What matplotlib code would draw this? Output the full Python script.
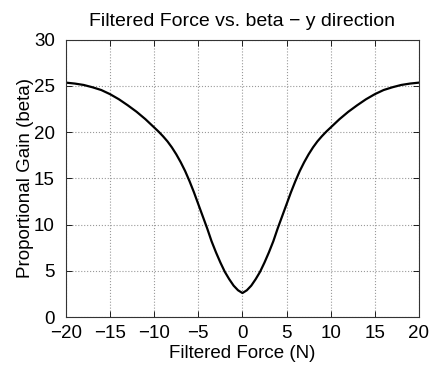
import numpy as np
import matplotlib
matplotlib.use( "Agg" )
import matplotlib.pyplot as plt

# values (right half, x >= 0); curve is symmetric about 0
force_half = [ 0, 0.5, 1, 1.5, 2, 2.5, 3, 3.5, 4, 4.5, 5, 5.5, 6, 6.5, 7, 7.5, 8, 8.5, 9, 9.5, 10,
               11, 12, 13, 14, 15, 16, 17, 18, 19, 20 ]
gain_half = [ 2.6, 2.9, 3.4, 4.1, 4.9, 5.9, 7.0, 8.2, 9.6, 10.9, 12.2, 13.5, 14.7, 15.8, 16.75, 17.6, 18.35, 19.0, 19.55, 20.05, 20.5,
              21.4, 22.2, 22.9, 23.55, 24.1, 24.55, 24.85, 25.1, 25.25, 25.35 ]
force = [ -f for f in force_half[ :0:-1 ] ] + force_half
gain = gain_half[ :0:-1 ] + gain_half
x_ticks = [ -20, -15, -10, -5, 0, 5, 10, 15, 20 ]
y_ticks = [ 0, 5, 10, 15, 20, 25, 30 ]

plt.rcParams[ "font.family" ] = [ "Liberation Sans", "DejaVu Sans" ]
plt.rcParams[ "font.size" ] = 13.5

fig = plt.figure( figsize = ( 4.4, 3.67 ), dpi = 100 )
ax = fig.add_axes( [ 0.15, 0.136, 0.802, 0.756 ] )

ax.plot( force, gain, color = "black", linewidth = 1.6 )
ax.set_xlim( -20, 20 )
ax.set_ylim( 0, 30 )
ax.set_xticks( x_ticks )
ax.set_yticks( y_ticks )
ax.set_xticklabels( [ str( t ).replace( "-", "\u2212" ) for t in x_ticks ] )
ax.grid( True, linestyle = ":", color = "#999999", linewidth = 0.8 )
ax.tick_params( direction = "in", top = True, right = True, length = 4, width = 0.6 )
ax.tick_params( axis = "x", pad = 6 )
ax.tick_params( axis = "y", pad = 8 )
for s in ax.spines.values():
    s.set_linewidth( 0.8 )
    s.set_color( "#333333" )

ax.set_xlabel( "Filtered Force (N)", labelpad = 2 )
ax.set_ylabel( "Proportional Gain (beta)", labelpad = 0 )
ax.set_title( "Filtered Force vs. beta \u2212 y direction", fontsize = 14, pad = 10 )

fig.savefig( "out.png", dpi = 100 )
